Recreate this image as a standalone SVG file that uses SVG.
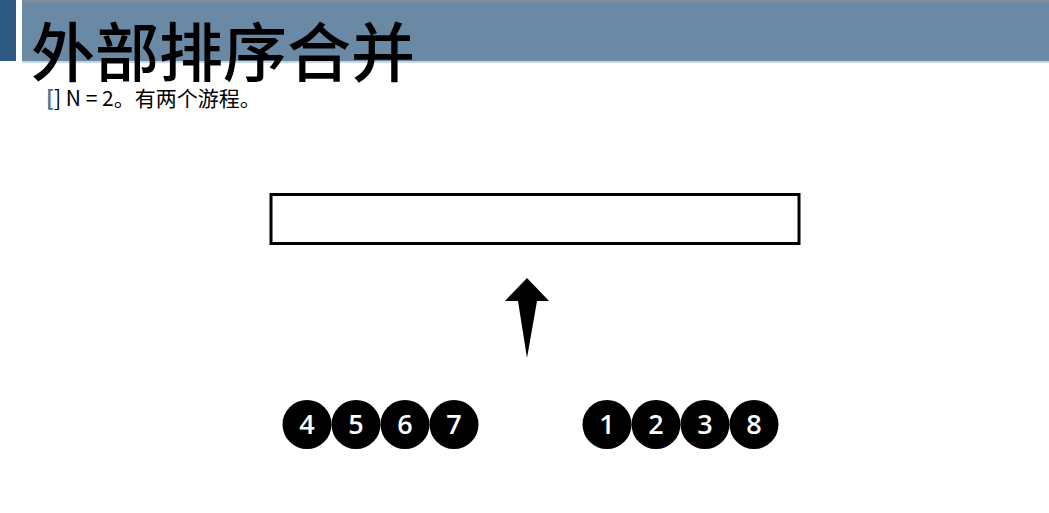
<svg xmlns="http://www.w3.org/2000/svg" width="1049" height="513" viewBox="0 0 1049 513">
<style>
.cj{font-family:"Noto Sans CJK SC","Noto Sans",sans-serif}
.ball circle{fill:#000}
.ball text{fill:#fff;font-family:"Open Sans","DejaVu Sans",sans-serif;font-weight:600;font-size:27px;text-anchor:middle}
</style>
<rect width="1049" height="513" fill="#fff"/>
<g id="header">
<rect x="0" y="0" width="16" height="61" fill="#2c5a80"/>
<rect x="22" y="0" width="1027" height="61" fill="#6989a5"/>
<rect x="22" y="0" width="1027" height="2" fill="#7f8d98"/>
<rect x="22" y="61" width="1027" height="2" fill="#c9d5df"/>
</g>
<text class="cj" x="31" y="76" font-size="64" font-weight="500" fill="#000">外部排序合并</text>
<text class="cj" x="46" y="106" font-size="21" fill="#000"><tspan fill="#4d6f8d" font-weight="bold">[</tspan>] N = 2。有两个游程。</text>
<g id="buffer"><rect x="271" y="194.5" width="528" height="49" fill="#fff" stroke="#000" stroke-width="3"/></g>
<g id="connectors"><path d="M527,278 L549,301 L537,301 L527,358 L518,301 L505,301 Z" fill="#000"/></g>
<g id="run1" class="ball">
<circle cx="307" cy="424.5" r="24.5"/><text x="307" y="434">4</text>
<circle cx="356" cy="424.5" r="24.5"/><text x="356" y="434">5</text>
<circle cx="405" cy="424.5" r="24.5"/><text x="405" y="434">6</text>
<circle cx="454" cy="424.5" r="24.5"/><text x="454" y="434">7</text>
</g>
<g id="run2" class="ball">
<circle cx="607" cy="424.5" r="24.5"/><text x="607" y="434">1</text>
<circle cx="656" cy="424.5" r="24.5"/><text x="656" y="434">2</text>
<circle cx="705" cy="424.5" r="24.5"/><text x="705" y="434">3</text>
<circle cx="754" cy="424.5" r="24.5"/><text x="754" y="434">8</text>
</g>
</svg>
